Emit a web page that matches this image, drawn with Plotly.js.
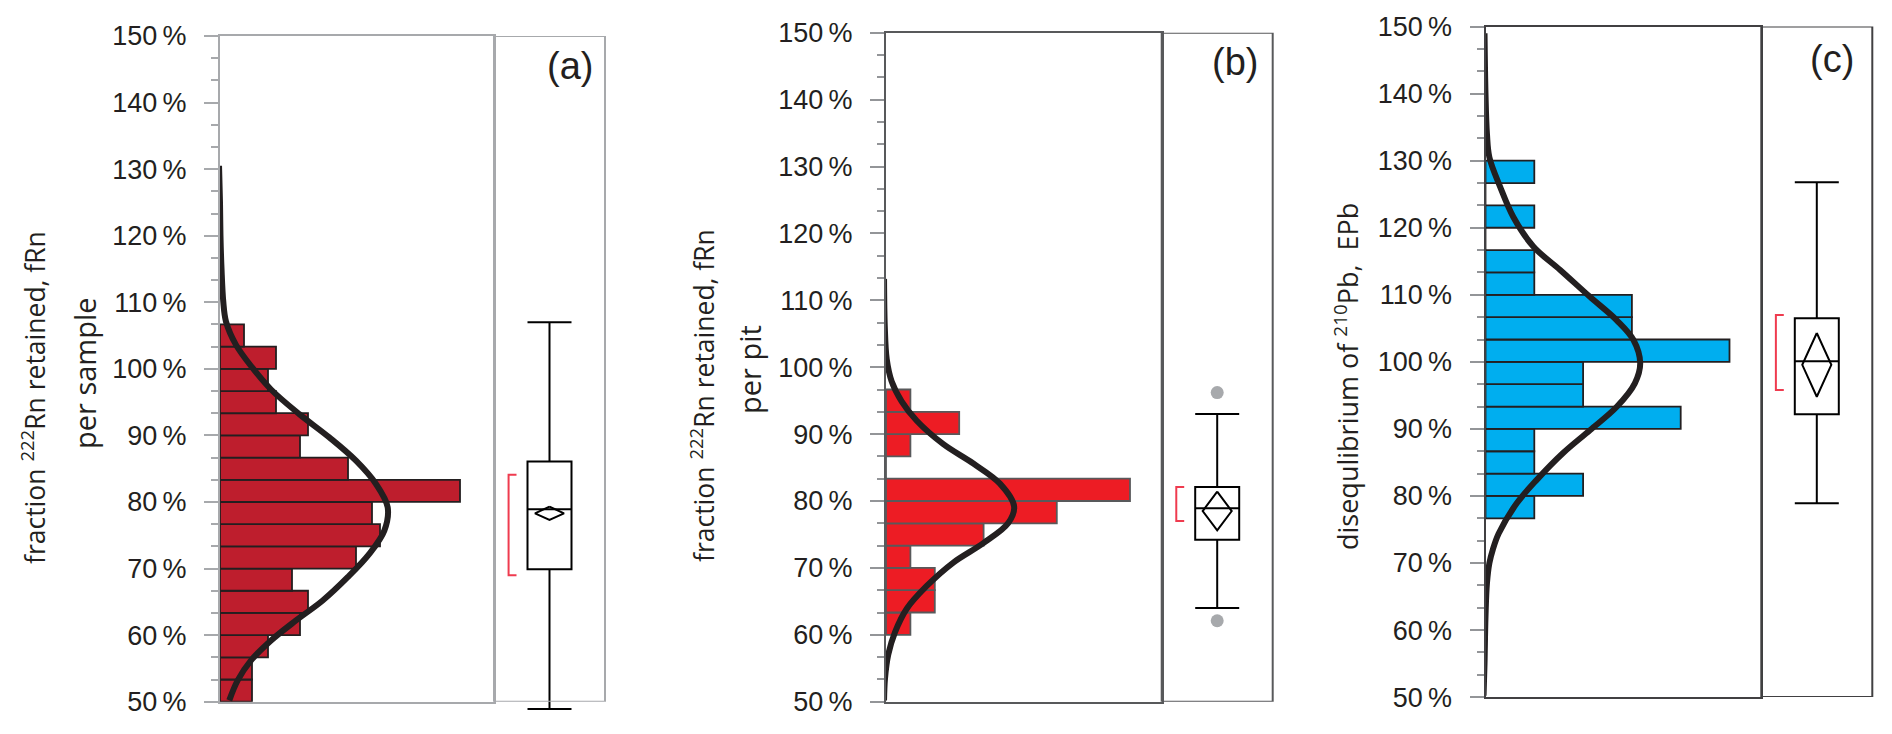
<!DOCTYPE html>
<html>
<head>
<meta charset="utf-8">
<script src="https://cdn.plot.ly/plotly-3.0.1.min.js"></script>
<style>
  html, body { margin: 0; padding: 0; background: #fff; }
  #chart { width: 1892px; height: 734px; }
</style>
</head>
<body>
<div id="chart"></div>
<script>
// ---------- values ----------
// histogram bins: centres in %, each bin is 10/3 % wide
var binsA = [51.67, 55, 58.33, 61.67, 65, 68.33, 71.67, 75, 78.33, 81.67, 85, 88.33, 91.67, 95, 98.33, 101.67, 105];
var countsA = [4, 4, 6, 10, 11, 9, 17, 20, 19, 30, 16, 10, 11, 7, 6, 7, 3];
var binsB = [61.67, 65, 68.33, 71.67, 75, 78.33, 81.67, 85, 88.33, 91.67, 95];
var countsB = [1, 2, 2, 1, 4, 7, 10, 0, 1, 3, 1];
var binsC = [78.33, 81.67, 85, 88.33, 91.67, 95, 98.33, 101.67, 105, 108.33, 111.67, 115, 118.33, 121.67, 125, 128.33];
var countsC = [1, 2, 1, 1, 4, 2, 2, 5, 3, 3, 1, 1, 0, 1, 0, 1];

// fitted curves (y in %, x in count units)
var fitYA = [130.5, 125, 120, 115, 110.1, 107.1, 103.6, 100.1, 96.9, 93.2, 89.7, 86.2, 82.7, 79.2, 75.7, 72.2, 68.7, 65.2, 62.2, 59.2, 56.2, 53.2, 50.2];
var fitXA = [-0.12, 0, 0.06, 0.19, 0.41, 0.75, 2.0, 4.09, 6.38, 9.91, 13.66, 17.0, 19.5, 20.96, 20.54, 18.66, 15.96, 12.84, 9.5, 6.38, 3.88, 2.21, 1.16];
var fitYB = [113.2, 106.1, 101.2, 97.9, 94.9, 92.0, 88.5, 85.6, 82.6, 79.2, 76.7, 73.7, 70.8, 67.3, 63.9, 60.4, 57.0, 53.5, 50.2];
var fitXB = [-0.08, -0.05, 0.03, 0.23, 0.64, 1.26, 2.35, 3.58, 4.67, 5.25, 5.01, 3.99, 2.76, 1.67, 0.85, 0.37, 0.09, -0.04, -0.08];
var fitYC = [149, 140, 134, 130.5, 126.1, 121.6, 117.2, 113.7, 109.7, 106.2, 103.3, 99.8, 96.8, 93.3, 89.8, 86.4, 82.4, 78.9, 74.4, 72, 70, 67, 62, 55, 50.2];
var fitXC = [-0.02, 0, 0.03, 0.08, 0.3, 0.57, 0.98, 1.53, 2.14, 2.69, 3.03, 3.17, 3.06, 2.69, 2.14, 1.59, 1.05, 0.64, 0.27, 0.15, 0.08, 0.03, 0, -0.02, -0.04];

// box plots: lower whisker, q1, median, q3, upper whisker
var boxA = [48.9, 69.9, 78.9, 86.1, 107.0];
var boxB = [64.0, 74.2, 78.9, 82.1, 93.0];
var boxC = [78.9, 92.2, 100.1, 106.5, 126.8];
// mean and half-width of the confidence diamond
var meanA = [78.3, 1.0];
var meanB = [78.5, 2.9];
var meanC = [99.55, 4.75];
// red bracket: low, high
var bracketA = [69.0, 84.1];
var bracketB = [77.0, 82.1];
var bracketC = [95.8, 107.0];
var outliersB = [62.1, 96.2];

var yTicks = [50, 60, 70, 80, 90, 100, 110, 120, 130, 140, 150];
var yTickText = yTicks.map(v => v + '\u2009%');

// ---------- page geometry ----------
var W = 1892, H = 734;
function fx(px) { return px / W; }
function fy(py) { return 1 - py / H; }

var TICK_FONT = { family: 'Liberation Sans, Arial, sans-serif', size: 27, color: '#231f20' };
var TITLE_FAMILY = 'Open Sans, Noto Sans, sans-serif';
var CURVE_COLOR = '#231f20';

var data = [];
var layout = {
    width: W,
    height: H,
    margin: { l: 0, r: 0, t: 0, b: 0 },
    paper_bgcolor: '#fff',
    plot_bgcolor: 'rgba(0,0,0,0)',
    showlegend: false,
    shapes: [],
    annotations: []
};

function buildPanel(n, p) {
    var xh = n === 1 ? 'x' : 'x' + (2 * n - 1);
    var yh = n === 1 ? 'y' : 'y' + (2 * n - 1);
    var xb = 'x' + (2 * n);
    var yb = 'y' + (2 * n);
    var pxPerPct = (p.bottom - p.top) / 100;

    layout[xh.replace('x', 'xaxis')] = {
        domain: [fx(p.axisX), fx(p.divX)],
        range: [0, (p.divX - p.axisX) / p.pxPerCount],
        anchor: yh,
        showline: true, mirror: true, linecolor: p.frame, linewidth: 2,
        showgrid: false, zeroline: false, showticklabels: false, ticks: ''
    };
    layout[yh.replace('y', 'yaxis')] = {
        domain: [fy(p.bottom), fy(p.top)],
        range: [50, 150],
        anchor: xh,
        tickmode: 'array', tickvals: yTicks, ticktext: yTickText,
        ticks: 'outside', ticklen: 14, tickwidth: 2, tickcolor: p.tick,
        ticklabelstandoff: 12,
        minor: { tick0: 50, dtick: 10 / 3, ticks: 'outside', ticklen: 7, tickwidth: 2, tickcolor: p.tick, showgrid: false },
        tickfont: TICK_FONT,
        showline: true, mirror: true, linecolor: p.frame, linewidth: 2,
        showgrid: false, zeroline: false
    };
    // box subplot: same scale, range reaches a bit lower so whiskers are not cut
    layout[xb.replace('x', 'xaxis')] = {
        domain: [fx(p.divX), fx(p.rightX)],
        range: [-(p.rightX - p.divX) / 88, (p.rightX - p.divX) / 88],
        anchor: yb, visible: false
    };
    layout[yb.replace('y', 'yaxis')] = {
        domain: [fy(p.bottom + 3 * pxPerPct), fy(p.top)],
        range: [47, 150],
        anchor: xb, visible: false
    };

    data.push({
        type: 'bar', orientation: 'h',
        x: p.counts, y: p.bins, width: 10 / 3,
        xaxis: xh, yaxis: yh,
        marker: { color: p.color, line: { color: p.barLine, width: 1.8 } },
        hoverinfo: 'skip'
    });
    data.push({
        type: 'scatter', mode: 'lines',
        x: p.fitX, y: p.fitY,
        xaxis: xh, yaxis: yh,
        line: { color: CURVE_COLOR, width: 6, shape: 'spline', smoothing: 1 },
        cliponaxis: false, hoverinfo: 'skip'
    });

    var s = p.box;
    data.push({
        type: 'box', x: [0],
        lowerfence: [s[0]], q1: [s[1]], median: [s[2]], q3: [s[3]], upperfence: [s[4]],
        xaxis: xb, yaxis: yb,
        width: 1, whiskerwidth: 1, boxpoints: false,
        fillcolor: '#fff', line: { color: '#000', width: 2 },
        hoverinfo: 'skip'
    });
    var m = p.mean;
    data.push({
        type: 'scatter', mode: 'lines',
        x: [0, 0.33, 0, -0.33, 0],
        y: [m[0] + m[1], m[0], m[0] - m[1], m[0], m[0] + m[1]],
        xaxis: xb, yaxis: yb,
        line: { color: '#000', width: 2 }, hoverinfo: 'skip'
    });
    var b = p.bracket;
    data.push({
        type: 'scatter', mode: 'lines',
        x: [-0.75, -0.93, -0.93, -0.75],
        y: [b[1], b[1], b[0], b[0]],
        xaxis: xb, yaxis: yb,
        line: { color: '#ef3b4f', width: 2 }, hoverinfo: 'skip'
    });
    if (p.outliers) {
        data.push({
            type: 'scatter', mode: 'markers',
            x: p.outliers.map(() => 0), y: p.outliers,
            xaxis: xb, yaxis: yb,
            marker: { color: '#a7a9ac', size: 13 }, hoverinfo: 'skip'
        });
    }

    layout.shapes.push({
        type: 'rect', xref: xb + ' domain', yref: yh,
        x0: 0, x1: 1, y0: 50, y1: 150,
        line: { color: p.frame, width: 2 }
    });

    layout.annotations.push({
        xref: 'paper', yref: 'paper', x: fx(p.labelX), y: fy(p.labelY),
        xanchor: 'center', yanchor: 'middle',
        text: p.label, showarrow: false,
        font: { family: 'Liberation Sans, Arial, sans-serif', size: 38, color: '#231f20' }
    });
    p.titles.forEach(function (t) {
        layout.annotations.push({
            xref: 'paper', yref: 'paper', x: fx(t.x), y: fy(t.y),
            xanchor: 'center', yanchor: 'middle',
            text: t.text, textangle: -90, showarrow: false,
            font: { family: TITLE_FAMILY, size: t.size, color: '#231f20' }
        });
    });
}

buildPanel(1, {
    bins: binsA, counts: countsA, fitX: fitXA, fitY: fitYA,
    box: boxA, mean: meanA, bracket: bracketA,
    axisX: 220, divX: 494, rightX: 605, top: 36, bottom: 701.7, pxPerCount: 8,
    color: '#be1e2d', barLine: '#231f20', frame: '#a7a9ac', tick: '#a7a9ac',
    label: '(a)', labelX: 570, labelY: 66,
    titles: [
        { text: 'fraction <sup>222</sup>Rn retained, fRn', x: 33, y: 398, size: 26.5 },
        { text: 'per sample', x: 84, y: 373, size: 29 }
    ]
});
buildPanel(2, {
    bins: binsB, counts: countsB, fitX: fitXB, fitY: fitYB,
    box: boxB, mean: meanB, bracket: bracketB, outliers: outliersB,
    axisX: 886, divX: 1161.7, rightX: 1272.7, top: 32.7, bottom: 701.7, pxPerCount: 24.4,
    color: '#ed1c24', barLine: '#58595b', frame: '#58595b', tick: '#939598',
    label: '(b)', labelX: 1235, labelY: 62,
    titles: [
        { text: 'fraction <sup>222</sup>Rn retained, fRn', x: 702, y: 396, size: 26.5 },
        { text: 'per pit', x: 749, y: 370, size: 29 }
    ]
});
buildPanel(3, {
    bins: binsC, counts: countsC, fitX: fitXC, fitY: fitYC,
    box: boxC, mean: meanC, bracket: bracketC,
    axisX: 1485.5, divX: 1761.3, rightX: 1872.3, top: 26.6, bottom: 697.1, pxPerCount: 48.8,
    color: '#00aeef', barLine: '#231f20', frame: '#414042', tick: '#939598',
    label: '(c)', labelX: 1832, labelY: 59,
    titles: [
        { text: 'disequlibrium of <sup>210</sup>Pb,\u00a0 EPb', x: 1346, y: 377, size: 27 }
    ]
});

Plotly.newPlot('chart', data, layout, { staticPlot: true, displayModeBar: false });
</script>
</body>
</html>
